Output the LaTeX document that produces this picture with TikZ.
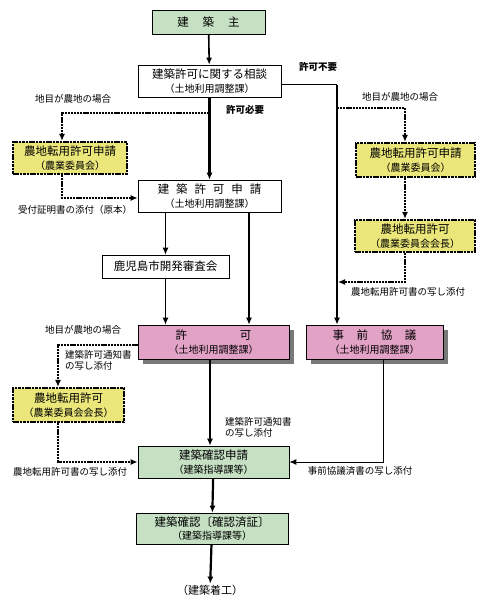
\documentclass[tikz,border=0pt]{standalone}
\usepackage{fontspec}
\setmainfont{Noto Sans CJK JP}
\usetikzlibrary{arrows.meta}

\definecolor{boxgreen}{RGB}{198,224,196}
\definecolor{boxpink}{RGB}{226,162,198}
\definecolor{boxyellow}{RGB}{234,230,122}
\definecolor{boxshade}{RGB}{120,120,120}
\newcommand{\subline}[1]{{\fontsize{10}{11.5}\selectfont #1}}

\begin{document}
\begin{tikzpicture}[x=1pt,y=-1pt,
	box/.style={draw,line width=0.7pt,inner sep=0pt,align=center,font=\fontsize{11.5}{13.5}\selectfont},
	greenbox/.style={box,fill=boxgreen},
	whitebox/.style={box,fill=white},
	pinkbox/.style={box,fill=boxpink},
	yellowbox/.style={box,fill=boxyellow,line width=2.2pt,dash pattern=on 2.6pt off 0.8pt},
	flow/.style={-{Latex[length=7pt,width=6pt]},line width=1pt},
	bold/.style={-{Latex[length=7pt,width=6pt]},line width=2.2pt},
	farm/.style={-{Latex[length=7pt,width=6pt]},line width=2.3pt,dash pattern=on 2.2pt off 0.9pt},
	note/.style={font=\fontsize{9.5}{11}\selectfont,align=left,inner sep=0pt}]
	\useasboundingbox (0,0) rectangle (480,604);
	
	\node[greenbox,minimum width=113pt,minimum height=24pt] (owner) at (208.5,22) {建\hspace{1.2em}築\hspace{1.2em}主};
	\node[whitebox,minimum width=143pt,minimum height=32pt] (consult) at (209.5,81) {建築許可に関する相談\\\subline{（土地利用調整課）}};
	\node[whitebox,minimum width=143pt,minimum height=32pt] (apply) at (209.5,196) {建\hspace{0.6em}築\hspace{0.6em}許\hspace{0.6em}可\hspace{0.6em}申\hspace{0.6em}請\\\subline{（土地利用調整課）}};
	\node[whitebox,minimum width=127pt,minimum height=23pt] (council) at (165.5,266.5) {鹿児島市開発審査会};
	\node[pinkbox,minimum width=151pt,minimum height=34pt] (permit) at (213.5,342) {許\hspace{4.6em}可\\\subline{（土地利用調整課）}};
	\node[pinkbox,minimum width=137pt,minimum height=34pt] (prior) at (374.5,342) {事\hspace{1.1em}前\hspace{1.1em}協\hspace{1.1em}議\\\subline{（土地利用調整課）}};
	\node[yellowbox,minimum width=114pt,minimum height=32pt] (farmA) at (70,158) {農地転用許可申請\\\subline{（農業委員会）}};
	\node[yellowbox,minimum width=119pt,minimum height=34pt] (farmB) at (415.5,160) {農地転用許可申請\\\subline{（農業委員会）}};
	\node[yellowbox,minimum width=120pt,minimum height=32pt] (farmC) at (415,236) {農地転用許可\\\subline{（農業委員会会長）}};
	\node[yellowbox,minimum width=111pt,minimum height=34pt] (farmD) at (68.5,405) {農地転用許可\\\subline{（農業委員会会長）}};
	\node[greenbox,minimum width=151pt,minimum height=32pt] (check) at (213.5,462) {建築確認申請\\\subline{（建築指導課等）}};
	\node[greenbox,minimum width=152pt,minimum height=31pt] (done) at (212,528.5) {建築確認〔確認済証〕\\\subline{（建築指導課等）}};
	\node[font=\fontsize{11}{13}\selectfont,inner sep=1pt] (start) at (210,590) {（建築着工）};
	
	\fill[boxshade] ([shift={(0.4,5)}]permit.north east) rectangle ([shift={(5,5)}]permit.south east);
	\fill[boxshade] ([shift={(5,0.4)}]permit.south west) rectangle ([shift={(5,5)}]permit.south east);
	\fill[boxshade] ([shift={(0.4,5)}]prior.north east) rectangle ([shift={(5,5)}]prior.south east);
	\fill[boxshade] ([shift={(5,0.4)}]prior.south west) rectangle ([shift={(5,5)}]prior.south east);
	
	\node[note,font=\fontsize{9.5}{11}\bfseries] (nofree) at (318,67) {許可不要};
	\node[note,font=\fontsize{9.5}{11}\bfseries] (need) at (245,110) {許可必要};
	\node[note] (caseA) at (73,99) {地目が農地の場合};
	\node[note] (caseB) at (400,97) {地目が農地の場合};
	\node[note] (caseC) at (83,330) {地目が農地の場合};
	\node[note] (receipt) at (75,210) {受付証明書の添付（原本）};
	\node[note] (copyB) at (408,292) {農地転用許可書の写し添付};
	\node[note] (copyD) at (70,472) {農地転用許可書の写し添付};
	\node[note,anchor=west] (noticeA) at (65,360) {建築許可通知書\\の写し添付};
	\node[note,anchor=west] (noticeB) at (225,427) {建築許可通知書\\の写し添付};
	\node[note] (priorcopy) at (360,471) {事前協議済書の写し添付};
	
	\coordinate (bend) at (337,85);
	\coordinate (lfork) at (209.5,113);
	\coordinate (rfork) at (337,108);
	\coordinate (rjoin) at (338,282);
	
	\draw[bold,line width=1.6pt] (owner) -- (consult);
	\draw[bold] (consult) -- (apply);
	\draw[line width=1pt] ([yshift=-4pt]consult.east) -- (bend);
	\draw[bold] (bend) -- (bend |- prior.north);
	\draw[farm] (lfork) -| ([xshift=-8pt]farmA.north);
	\draw[farm] ([xshift=-8pt]farmA.south) |- ([yshift=-2pt]apply.west);
	\draw[farm] (rfork) -| ([xshift=-10.5pt]farmB.north);
	\draw[farm] ([xshift=-10.5pt]farmB.south) -- ([xshift=-10pt]farmC.north);
	\draw[farm] ([xshift=-10pt]farmC.south) |- (rjoin);
	\draw[flow] (apply.south -| council.north) -- (council);
	\draw[flow] (council) -- (council.south |- permit.north);
	\draw[bold] ([xshift=39.5pt]apply.south) -- ([xshift=39.5pt]apply.south |- permit.north);
	\draw[farm] ([yshift=-3pt]permit.west) -| ([xshift=-10.5pt]farmD.north);
	\draw[farm] ([xshift=-10.5pt]farmD.south) |- (check.west);
	\draw[bold] ([xshift=-3.5pt]permit.south) -- ([xshift=-3.5pt]check.north);
	\draw[flow] ([xshift=8.5pt]prior.south) |- (check.east);
	\draw[bold] (check) -- (done);
	\draw[bold] (done) -- (start);
\end{tikzpicture}
\end{document}
